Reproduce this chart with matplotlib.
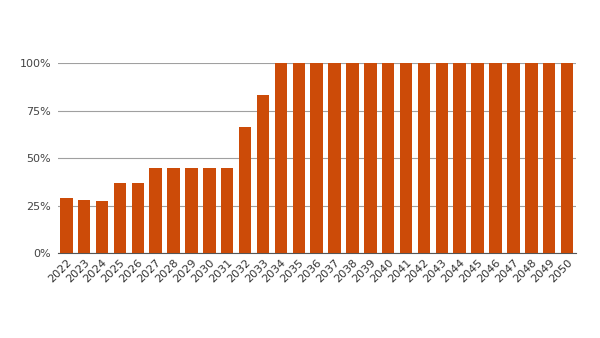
import numpy as np
import matplotlib.pyplot as plt

years = [str(y) for y in range(2022, 2051)]
share = [0.29, 0.28, 0.275, 0.37, 0.37, 0.45, 0.45, 0.45, 0.45, 0.45,
         0.665, 0.833] + [1.0] * 17
yticks = [0, 0.25, 0.5, 0.75, 1.0]
ylabels = ["0%", "25%", "50%", "75%", "100%"]

fig = plt.figure(figsize=(6, 3.38), dpi=100)
ax = fig.add_axes([0.097, 0.2515, 0.863, 0.562])

x = np.arange(len(years))
ax.bar(x, share, width=0.7, color="#cc4b08", zorder=3)

ax.set_xlim(-0.45, len(years) - 0.5)
ax.set_ylim(0, 1.0)
ax.set_yticks(yticks)
ax.set_yticklabels(ylabels, fontsize=8, color="#444444")
ax.set_xticks(x)
ax.set_xticklabels(years, rotation=45, ha="right", rotation_mode="anchor",
                   fontsize=8, color="#333333")
ax.grid(axis="y", color="#a0a0a0", linewidth=0.8, zorder=0)
for s in ["top", "right", "left"]:
    ax.spines[s].set_visible(False)
ax.spines["bottom"].set_color("#555555")
ax.tick_params(length=0, pad=5)
ax.tick_params(axis="x", pad=3)

fig.savefig("out.png", dpi=100)
